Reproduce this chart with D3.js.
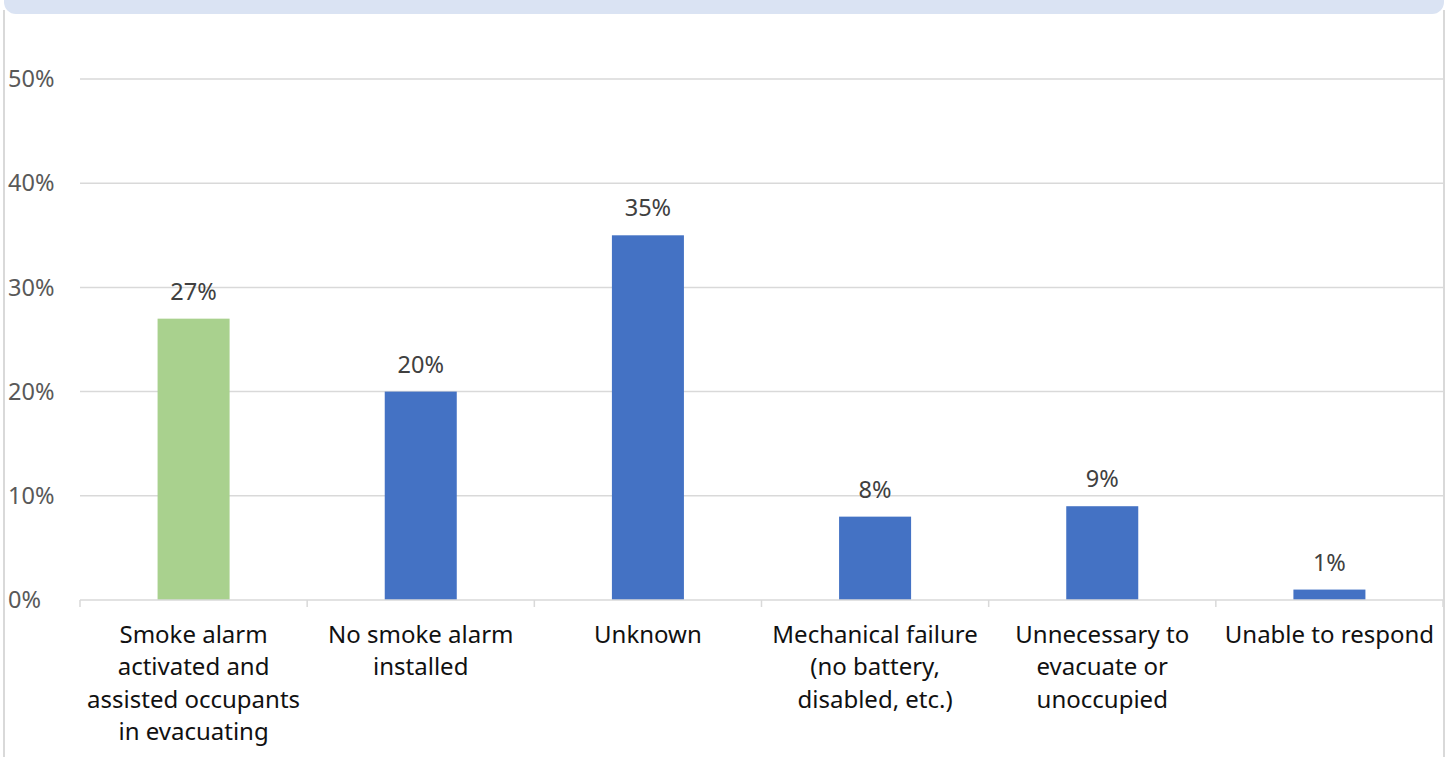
<!DOCTYPE html>
<html><head><meta charset="utf-8">
<script src="https://cdn.jsdelivr.net/npm/d3@7"></script>
<style>
html,body{margin:0;padding:0;background:#fff;}
svg{display:block;font-family:"Noto Sans","Open Sans",sans-serif;}
</style></head>
<body>
<svg id="chart" width="1452" height="757"></svg>
<script>
const categories = [
  ["Smoke alarm","activated and","assisted occupants","in evacuating"],
  ["No smoke alarm","installed"],
  ["Unknown"],
  ["Mechanical failure","(no battery,","disabled, etc.)"],
  ["Unnecessary to","evacuate or","unoccupied"],
  ["Unable to respond"]
];
const values = [27, 20, 35, 8, 9, 1];
const barColors = ["#a9d18e", "#4472c4", "#4472c4", "#4472c4", "#4472c4", "#4472c4"];
const yTicks = [0, 10, 20, 30, 40, 50];

(function(){
const svg = d3.select("#chart");
const W = 1452, H = 757;
const mLeft = 80, mRight = 1443, mTop = 79, mBottom = 600;

// frame
svg.append("rect").attr("x", 4).attr("y", -20).attr("width", 1440).attr("height", 34)
  .attr("rx", 12).attr("fill", "#dae3f3");
svg.append("line").attr("x1", 4).attr("x2", 4).attr("y1", 10).attr("y2", H).attr("stroke", "#d9d9d9").attr("stroke-width", 2);
svg.append("line").attr("x1", 1444).attr("x2", 1444).attr("y1", 10).attr("y2", H).attr("stroke", "#d9d9d9").attr("stroke-width", 2);

const x = d3.scaleBand().domain(d3.range(values.length)).range([mLeft, mRight]).paddingInner(0).paddingOuter(0);
const y = d3.scaleLinear().domain([0, 50]).range([mBottom, mTop]);

// gridlines
svg.append("g").selectAll("line").data(yTicks.filter(d => d > 0)).join("line")
  .attr("x1", mLeft).attr("x2", mRight)
  .attr("y1", d => y(d)).attr("y2", d => y(d))
  .attr("stroke", "#d9d9d9").attr("stroke-width", 1.5);

// y labels
svg.append("g").selectAll("text").data(yTicks).join("text")
  .attr("x", 8).attr("y", d => y(d)).attr("dy", "0.35em")
  .attr("font-size", 23.5).attr("fill", "#595959")
  .text(d => d + "%");

// bars
const bw = x.bandwidth() * 0.317;
svg.append("g").selectAll("rect").data(values).join("rect")
  .attr("x", (d, i) => x(i) + x.bandwidth() / 2 - bw / 2)
  .attr("width", bw)
  .attr("y", d => y(d)).attr("height", d => y(0) - y(d))
  .attr("fill", (d, i) => barColors[i]);

// value labels
svg.append("g").selectAll("text").data(values).join("text")
  .attr("x", (d, i) => x(i) + x.bandwidth() / 2)
  .attr("y", d => y(d) - 19)
  .attr("text-anchor", "middle")
  .attr("font-size", 23.5).attr("fill", "#404040")
  .text(d => d + "%");

// x axis line and ticks
svg.append("line").attr("x1", mLeft).attr("x2", mRight).attr("y1", mBottom).attr("y2", mBottom)
  .attr("stroke", "#d9d9d9").attr("stroke-width", 1.5);
svg.append("g").selectAll("line").data(d3.range(values.length + 1)).join("line")
  .attr("x1", i => mLeft + i * x.bandwidth()).attr("x2", i => mLeft + i * x.bandwidth())
  .attr("y1", mBottom).attr("y2", mBottom + 7)
  .attr("stroke", "#d9d9d9").attr("stroke-width", 1.5);

// category labels
const cg = svg.append("g");
categories.forEach((lines, i) => {
  const t = cg.append("text")
    .attr("x", x(i) + x.bandwidth() / 2).attr("y", 643)
    .attr("text-anchor", "middle").attr("font-size", 24).attr("fill", "#111111");
  lines.forEach((ln, j) => {
    t.append("tspan").attr("x", x(i) + x.bandwidth() / 2).attr("dy", j === 0 ? 0 : 32.4).text(ln);
  });
});
})();
</script>
</body></html>
